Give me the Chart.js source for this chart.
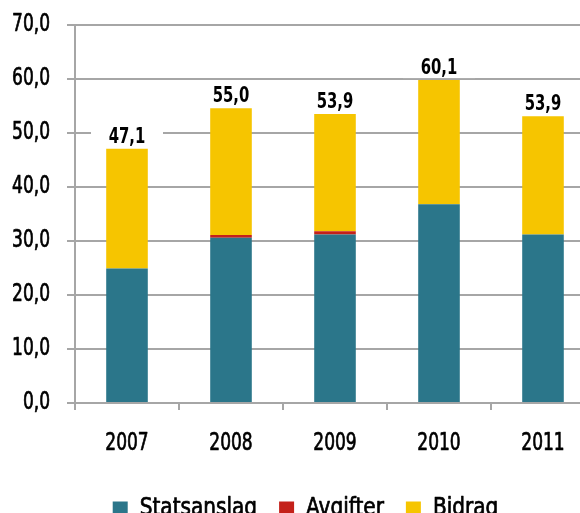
<!DOCTYPE html>
<html><head><meta charset="utf-8">
<script src="https://cdn.jsdelivr.net/npm/chart.js@4/dist/chart.umd.min.js"></script>
<style>
html,body{margin:0;padding:0;background:#fff;overflow:hidden;width:580px;height:513px;}
#wrap{position:absolute;left:0;top:0;width:595px;height:531px;}
</style></head>
<body><div id="wrap"><canvas id="c" width="595" height="531"></canvas></div>
<script>
const categories = ['2007','2008','2009','2010','2011'];
const statsanslag = [24.9, 30.6, 31.2, 36.8, 31.2];
const avgifter = [0, 0.5, 0.6, 0, 0];
const bidrag = [22.2, 23.5, 21.7, 23.0, 21.9];
const totalLabels = ['47,1','55,0','53,9','60,1','53,9'];
const yTicks = [0,10,20,30,40,50,60,70];

const FONT = "'DejaVu Sans Condensed','DejaVu Sans',sans-serif";
const GRID = '#a6a6a6';

// condensed rendering of text (narrow typeface look)
function squeeze(t){ return /^[\d,.\s]+$/.test(String(t)) ? 0.79 : 0.93; }
const condensePlugin = {
  id:'condense',
  beforeInit(chart){
    const ctx = chart.ctx;
    const proto = Object.getPrototypeOf(ctx);
    const of = proto.fillText, os = proto.strokeText, om = proto.measureText;
    ctx.fillText = function(t,x,y,mw){
      const s = this.__sq || squeeze(t);
      this.save();
      this.translate(x,y);
      this.scale(s,1);
      of.call(this,t,0,0);
      if (!/bold/.test(this.font)) {
        this.lineWidth = 0.7;
        this.strokeStyle = this.fillStyle;
        this.lineJoin = 'round';
        os.call(this,t,0,0);
      }
      this.restore();
    };
    ctx.measureText = function(t){
      const m = om.call(this,t);
      const s = this.__sq || squeeze(t);
      return {width:m.width*s, actualBoundingBoxAscent:m.actualBoundingBoxAscent,
        actualBoundingBoxDescent:m.actualBoundingBoxDescent,
        actualBoundingBoxLeft:m.actualBoundingBoxLeft*s, actualBoundingBoxRight:m.actualBoundingBoxRight*s};
    };
  },
  afterLayout(chart){
    if (chart.legend) { chart.legend.left += 8; chart.legend.right += 8; }
  }
};

const totalsPlugin = {
  id:'totals',
  afterDatasetsDraw(chart){
    const ctx = chart.ctx;
    const meta = chart.getDatasetMeta(2);
    ctx.save();
    ctx.font = "bold 22px " + FONT;
    ctx.textAlign = 'center';
    ctx.textBaseline = 'alphabetic';
    ctx.__sq = 0.75;
    meta.data.forEach((bar,i)=>{
      const x = bar.x, top = bar.y;
      const base = top - 6;
      ctx.fillStyle = '#fff';
      ctx.fillRect(x-36, base-19, 72, 23);
      ctx.fillStyle = '#000';
      ctx.fillText(totalLabels[i], x, base);
    });
    ctx.__sq = 0;
    ctx.restore();
  }
};

new Chart(document.getElementById('c'), {
  type:'bar',
  data:{
    labels: categories,
    datasets:[
      {label:'Statsanslag', data:statsanslag, backgroundColor:'#2b768a'},
      {label:'Avgifter', data:avgifter, backgroundColor:'#c4211a'},
      {label:'Bidrag', data:bidrag, backgroundColor:'#f6c500'}
    ]
  },
  options:{
    responsive:false,
    animation:false,
    layout:{padding:{left:0,top:25,right:0,bottom:0}},
    datasets:{bar:{barPercentage:0.4, categoryPercentage:1.0}},
    plugins:{
      legend:{
        position:'bottom',
        labels:{
          font:{family:FONT, size:24},
          color:'#000',
          boxWidth:15, boxHeight:15,
          padding:22,
          useBorderRadius:false
        }
      },
      tooltip:{enabled:false}
    },
    scales:{
      x:{
        stacked:true,
        grid:{drawOnChartArea:false, drawTicks:true, tickLength:7, color:GRID, lineWidth:2, offset:true},
        border:{display:true, color:GRID, width:2},
        ticks:{font:{family:FONT,size:24}, color:'#000', padding:19},
        afterFit(s){ s.height = 72; }
      },
      y:{
        stacked:true,
        min:0, max:70,
        afterBuildTicks(s){ s.ticks = yTicks.map(v=>({value:v})); },
        grid:{color:GRID, lineWidth:2, tickLength:8},
        border:{display:true, color:GRID, width:2},
        ticks:{
          font:{family:FONT,size:24}, color:'#000', padding:17,
          callback:(v)=>v.toFixed(1).replace('.',',')
        },
        afterFit(s){ s.width = 75; s.paddingTop = 0; s.paddingBottom = 0; }
      }
    }
  },
  plugins:[condensePlugin, totalsPlugin]
});
</script>
</body></html>
